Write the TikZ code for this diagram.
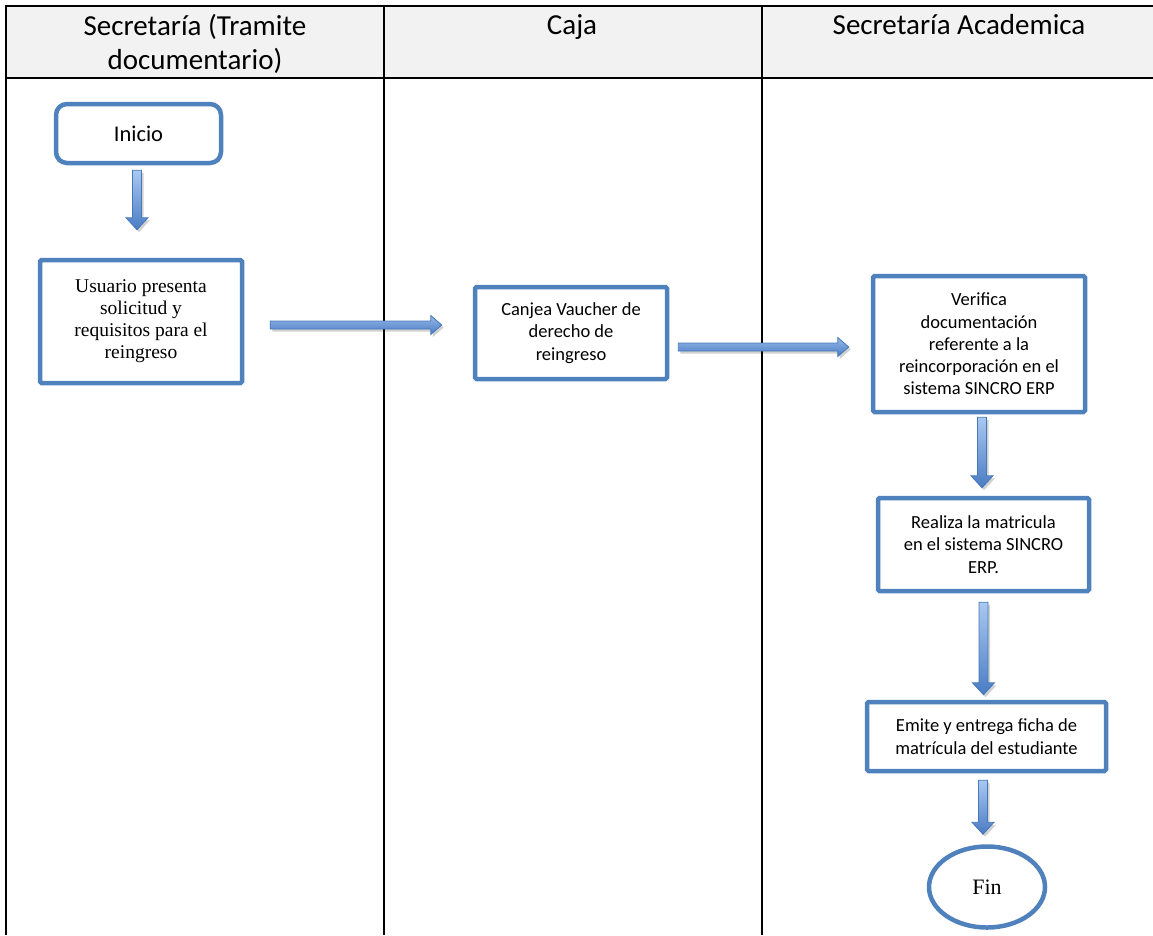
\documentclass[tikz,border=0pt]{standalone}
\usepackage{fontspec}
\setmainfont{Carlito}
\newfontfamily\cambriaf{Liberation Serif}
\usetikzlibrary{calc,shadows,shapes.geometric}
\definecolor{boxblue}{HTML}{4F81BD}
\definecolor{hdrgray}{HTML}{F2F2F2}
\definecolor{arrlight}{HTML}{A9C8F2}
\definecolor{arrdark}{HTML}{4A7CC4}
\definecolor{arredge}{HTML}{4677B8}
\tikzset{
  box/.style={draw=boxblue, line width=4.5pt, fill=white, align=center, inner sep=0pt,
    rounded corners=1.5pt, font=\fontsize{18.5}{22.3}\selectfont},
  serifbox/.style={box, font=\cambriaf\fontsize{19.5}{22}\selectfont},
  hdr/.style={font=\fontsize{29}{34}\selectfont, align=center, inner sep=0pt},
  grid/.style={line width=2pt, black},
  barrow/.style={draw=arredge, line width=0.8pt,
    drop shadow={shadow xshift=2pt, shadow yshift=-2.5pt, fill=black, opacity=0.18}},
}
% vertical block arrow: start, tip
\newcommand\BArrowV[2]{%
  \coordinate (bs) at #1;
  \coordinate (bt) at #2;
  \shade[barrow, top color=arrlight, bottom color=arrdark]
    ($(bs)+(-4.5,0)$) -- ($(bs |- bt)+(-4.5,-12)$) -- ($(bs |- bt)+(-11,-12)$) --
    (bs |- bt) -- ($(bs |- bt)+(11,-12)$) -- ($(bs |- bt)+(4.5,-12)$) --
    ($(bs)+(4.5,0)$) -- cycle;}
% horizontal block arrow: start, tip
\newcommand\BArrowH[2]{%
  \coordinate (bs) at #1;
  \coordinate (bt) at #2;
  \shade[barrow, top color=arrlight!80!arrdark, bottom color=arrdark]
    ($(bs)+(0,-4)$) -- ($(bt |- bs)+(-11,-4)$) -- ($(bt |- bs)+(-11,-9.5)$) --
    (bt |- bs) -- ($(bt |- bs)+(-11,9.5)$) -- ($(bt |- bs)+(-11,4)$) --
    ($(bs)+(0,4)$) -- cycle;}
\begin{document}
\begin{tikzpicture}[x=1pt, y=-1pt]
\useasboundingbox (0,0) rectangle (1153,935);
% header
\fill[hdrgray] (6,6) rectangle (1153,78);
\draw[grid] (5,6) -- (1153,6);
\draw[grid] (5,78) -- (1153,78);
\draw[grid] (6,5) -- (6,935);
\draw[grid] (384,6) -- (384,935);
\draw[grid] (762,6) -- (762,935);
\node[hdr, anchor=center] (h1) at (195,44) {Secretaría (Tramite\\documentario)};
\node[hdr, anchor=base] (h2) at (572,34) {Caja};
\node[hdr, anchor=base] (h3) at (959,34) {Secretaría Academica};
% nodes
\node[box, rounded corners=11pt, minimum width=165pt, minimum height=59pt,
  font=\fontsize{22.5}{26}\selectfont] (inicio) at (138.5,133.5) {Inicio};
\node[serifbox, minimum width=202pt, minimum height=123pt] (usuario) at (141,321.5)
  {Usuario presenta\\solicitud y\\requisitos para el\\reingreso};
\node[box, minimum width=192pt, minimum height=92pt] (canjea) at (571,333)
  {Canjea Vaucher de\\derecho de\\reingreso};
\node[box, minimum width=212pt, minimum height=136pt] (verifica) at (979,344)
  {Verifica\\documentación\\referente a la\\reincorporación en el\\sistema SINCRO ERP};
\node[box, minimum width=211pt, minimum height=93pt] (realiza) at (983.5,544.5)
  {Realiza la matricula\\en el sistema SINCRO\\ERP.};
\node[box, minimum width=239pt, minimum height=69pt] (emite) at (986.5,736.5)
  {Emite y entrega ficha de\\matrícula del estudiante};
\node[ellipse, draw=boxblue, line width=4.5pt, fill=white, inner sep=0pt,
  minimum width=116pt, minimum height=81pt, font=\cambriaf\fontsize{22}{24}\selectfont]
  (fin) at (987,887) {Fin};
% connectors
\BArrowV{($(inicio.south)+(-1.5,5)$)}{($(usuario.north)+(-4,-28)$)}
\BArrowH{($(usuario.east)+(26,3.5)$)}{($(canjea.west)+(-31,0)$)}
\BArrowH{($(canjea.east)+(9,14)$)}{($(verifica.west)+(-22,0)$)}
\BArrowV{($(verifica.south)+(3,3)$)}{($(realiza.north)+(0,-8)$)}
\BArrowV{($(realiza.south)+(0,9)$)}{($(emite.north)+(0,-5)$)}
\BArrowV{($(emite.south)+(-3.5,7)$)}{($(fin.north)+(0,-10)$)}
\end{tikzpicture}
\end{document}
